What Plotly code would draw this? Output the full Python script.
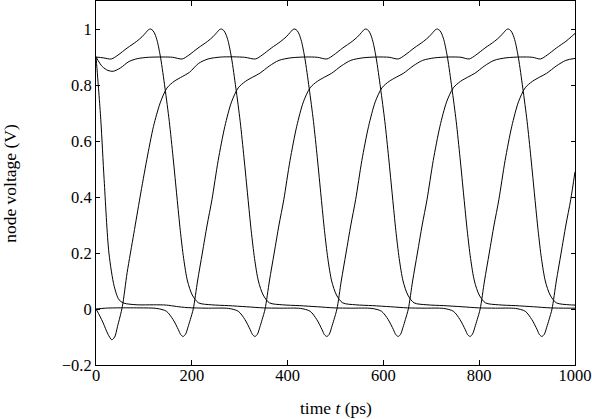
import plotly.graph_objects as go

# node waveforms of the 5-stage ring oscillator (time in ps, volts)
t_n0 = [0, 2, 10, 17, 27, 38, 48, 58, 86, 120, 147, 168, 190, 230, 277, 297, 311, 322, 327, 332,
        337, 342, 347, 353, 362, 372, 382, 392, 405, 419, 433, 447, 462, 477, 492, 512, 532, 557,
        587, 612, 631, 645, 664, 684, 695, 703, 709, 713, 718, 722, 727, 734, 743, 752, 760, 768,
        775, 782, 790, 800, 813, 840, 875, 913, 948, 983, 1000]
v_n0 = [0.9, 0.86, 0.676, 0.462, 0.2, 0.081, 0.033, 0.021, 0.015, 0.015, 0.014, 0.009, 0.005, 0.003,
        0.002, -0.008, -0.038, -0.074, -0.092, -0.098, -0.09, -0.065, -0.037, 0.0, 0.1, 0.2, 0.3,
        0.39, 0.53, 0.652, 0.74, 0.79, 0.813, 0.828, 0.842, 0.868, 0.888, 0.897, 0.9, 0.899, 0.893,
        0.907, 0.932, 0.956, 0.972, 0.987, 0.998, 1.0, 0.994, 0.982, 0.956, 0.896, 0.789, 0.67, 0.54,
        0.4, 0.28, 0.18, 0.1, 0.05, 0.022, 0.015, 0.012, 0.008, 0.004, 0.003, 0.003]

t_n1 = [0, 8, 15, 25, 33, 39, 45, 55, 65, 79, 92, 106, 120, 134, 148, 163, 180, 195, 214, 234, 262,
        310, 333, 347, 366, 386, 397, 405, 411, 415, 420, 424, 429, 436, 445, 454, 462, 470, 477, 484,
        492, 502, 515, 542, 577, 615, 650, 685, 726, 746, 760, 771, 776, 781, 786, 791, 796, 802, 811,
        821, 831, 841, 854, 868, 882, 896, 911, 926, 941, 961, 981, 1000]
v_n1 = [0.0, -0.025, -0.05, -0.09, -0.11, -0.1, -0.062, 0.009, 0.13, 0.27, 0.4, 0.533, 0.652, 0.736,
        0.789, 0.813, 0.83, 0.845, 0.877, 0.893, 0.9, 0.899, 0.893, 0.907, 0.932, 0.956, 0.972, 0.987,
        0.998, 1.0, 0.994, 0.982, 0.956, 0.896, 0.789, 0.67, 0.54, 0.4, 0.28, 0.18, 0.1, 0.05, 0.022,
        0.015, 0.012, 0.008, 0.004, 0.003, 0.002, -0.008, -0.038, -0.074, -0.092, -0.098, -0.09,
        -0.065, -0.037, 0.0, 0.1, 0.2, 0.3, 0.39, 0.53, 0.652, 0.74, 0.79, 0.813, 0.828, 0.842, 0.868,
        0.888, 0.895]

t_n2 = [0, 15, 32, 46, 65, 85, 96, 104, 110, 114, 119, 123, 128, 135, 144, 153, 161, 169, 176, 183,
        191, 201, 214, 241, 276, 314, 349, 384, 427, 447, 461, 472, 477, 482, 487, 492, 497, 503, 512,
        522, 532, 542, 555, 569, 583, 597, 612, 627, 642, 662, 682, 707, 737, 762, 779, 793, 812, 832,
        843, 851, 857, 861, 866, 870, 875, 882, 891, 900, 908, 916, 923, 930, 938, 948, 961, 988, 1000]
v_n2 = [0.9, 0.897, 0.893, 0.907, 0.932, 0.956, 0.972, 0.987, 0.998, 1.0, 0.994, 0.982, 0.956, 0.896,
        0.789, 0.67, 0.54, 0.4, 0.28, 0.18, 0.1, 0.05, 0.022, 0.015, 0.012, 0.008, 0.004, 0.003, 0.002,
        -0.008, -0.038, -0.074, -0.092, -0.098, -0.09, -0.065, -0.037, 0.0, 0.1, 0.2, 0.3, 0.39, 0.53,
        0.652, 0.74, 0.79, 0.813, 0.828, 0.842, 0.868, 0.888, 0.897, 0.9, 0.899, 0.893, 0.907, 0.932,
        0.956, 0.972, 0.987, 0.998, 1.0, 0.994, 0.982, 0.956, 0.896, 0.789, 0.67, 0.54, 0.4, 0.28,
        0.18, 0.1, 0.05, 0.022, 0.015, 0.014]

t_n3 = [0, 20, 40, 90, 127, 147, 161, 172, 177, 182, 187, 192, 197, 203, 212, 222, 232, 242, 255, 269,
        283, 297, 312, 327, 342, 362, 382, 407, 437, 462, 482, 496, 515, 535, 546, 554, 560, 564, 569,
        573, 578, 585, 594, 603, 611, 619, 626, 633, 641, 651, 664, 691, 726, 764, 799, 834, 876, 896,
        910, 921, 926, 931, 936, 941, 946, 952, 961, 971, 981, 991, 1000]
v_n3 = [0.0, 0.003, 0.004, 0.004, 0.002, -0.008, -0.038, -0.074, -0.092, -0.098, -0.09, -0.065, -0.037,
        0.0, 0.1, 0.2, 0.3, 0.39, 0.53, 0.652, 0.74, 0.79, 0.813, 0.828, 0.842, 0.868, 0.888, 0.897,
        0.9, 0.899, 0.893, 0.907, 0.932, 0.956, 0.972, 0.987, 0.998, 1.0, 0.994, 0.982, 0.956, 0.896,
        0.789, 0.67, 0.54, 0.4, 0.28, 0.18, 0.1, 0.05, 0.022, 0.015, 0.012, 0.008, 0.004, 0.003, 0.002,
        -0.008, -0.038, -0.074, -0.092, -0.098, -0.09, -0.065, -0.037, 0.0, 0.1, 0.2, 0.3, 0.39, 0.49]

t_n4 = [0, 13, 25, 36, 51, 69, 86, 110, 140, 160, 180, 194, 213, 233, 244, 252, 258, 262, 267, 271,
        276, 283, 292, 301, 309, 317, 324, 331, 339, 349, 362, 389, 424, 462, 497, 532, 576, 596, 610,
        621, 626, 631, 636, 641, 646, 652, 661, 671, 681, 691, 704, 718, 732, 746, 761, 776, 791, 811,
        831, 856, 886, 911, 928, 942, 961, 981, 992, 1000]
v_n4 = [0.9, 0.866, 0.852, 0.849, 0.861, 0.884, 0.894, 0.899, 0.9, 0.899, 0.893, 0.907, 0.932, 0.956,
        0.972, 0.987, 0.998, 1.0, 0.994, 0.982, 0.956, 0.896, 0.789, 0.67, 0.54, 0.4, 0.28, 0.18, 0.1,
        0.05, 0.022, 0.015, 0.012, 0.008, 0.004, 0.003, 0.002, -0.008, -0.038, -0.074, -0.092, -0.098,
        -0.09, -0.065, -0.037, 0.0, 0.1, 0.2, 0.3, 0.39, 0.53, 0.652, 0.74, 0.79, 0.813, 0.828, 0.842,
        0.868, 0.888, 0.897, 0.9, 0.899, 0.893, 0.907, 0.932, 0.956, 0.972, 0.984]

nodes = [(t_n0, v_n0), (t_n1, v_n1), (t_n2, v_n2), (t_n3, v_n3), (t_n4, v_n4)]

x_ticks = [0, 200, 400, 600, 800, 1000]
y_ticks = [-0.2, 0, 0.2, 0.4, 0.6, 0.8, 1]
y_labels = ["\u22120.2", "0", "0.2", "0.4", "0.6", "0.8", "1"]

FONT = "Liberation Serif"

fig = go.Figure()
for t, v in nodes:
    fig.add_trace(go.Scatter(x=t, y=v, mode="lines", line=dict(color="black", width=1, shape="spline", smoothing=0.8),
                             showlegend=False, hoverinfo="skip"))

axis_style = dict(showgrid=False, zeroline=False, showline=True, linecolor="black", linewidth=1,
                  mirror="ticks", ticks="inside", tickcolor="black", tickwidth=1, automargin=False,
                  ticklabeloverflow="allow", tickfont=dict(family=FONT, size=16.5, color="black"))

fig.update_xaxes(range=[0, 1000], tickvals=x_ticks, ticklen=5, ticklabelstandoff=-5, **axis_style)
fig.update_yaxes(range=[-0.2, 1.1], tickvals=y_ticks, ticktext=y_labels, ticklen=4, **axis_style)

fig.add_annotation(text="time <i>t</i> (ps)", xref="paper", yref="paper", x=0.5, y=-0.118,
                   xanchor="center", yanchor="middle", showarrow=False,
                   font=dict(family=FONT, size=17.5, color="black"))
fig.add_annotation(text="node voltage (V)", xref="paper", yref="paper", x=-0.18, y=0.5,
                   xanchor="center", yanchor="middle", textangle=-90, showarrow=False,
                   font=dict(family=FONT, size=17.5, color="black"))

fig.update_layout(width=592, height=419, margin=dict(l=96, r=17, t=1, b=54),
                  plot_bgcolor="white", paper_bgcolor="white")

# page body has a default 8px margin; drop it so the figure fills the window
fig.write_html("out.html", config={"displayModeBar": False},
               post_script="document.body.style.margin='0';")
